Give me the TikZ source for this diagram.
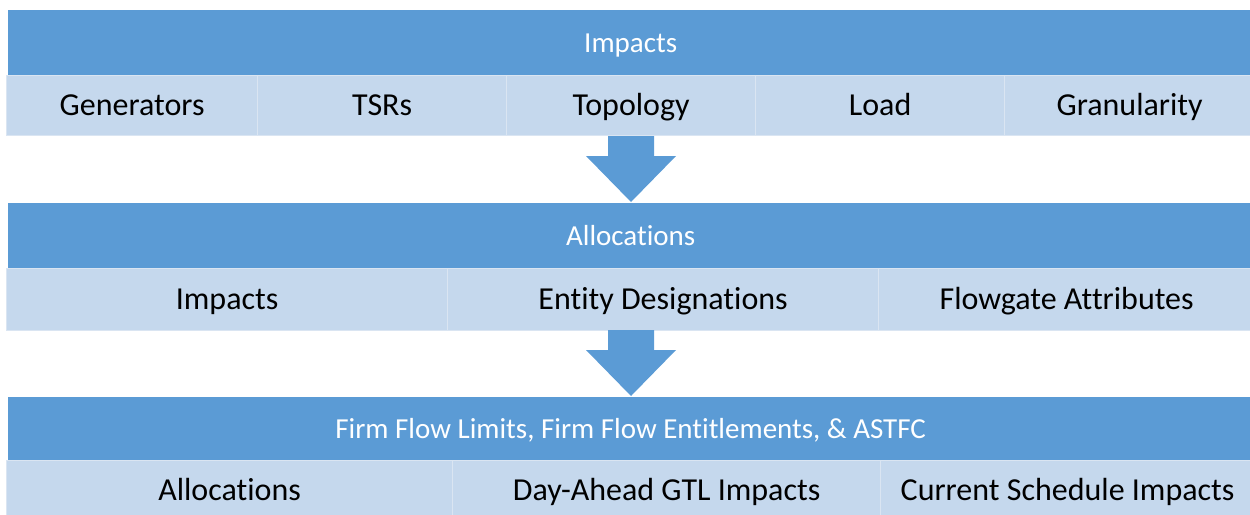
\documentclass[tikz,border=0pt]{standalone}
\usepackage{fontspec}
\setmainfont{Carlito}[Ligatures={NoCommon}]
\definecolor{hdrblue}{RGB}{91,155,213}
\definecolor{subblue}{RGB}{197,216,237}
\definecolor{cellline}{RGB}{218,229,242}
\begin{document}
\begin{tikzpicture}[x=1pt,y=-1pt,
  hdrcell/.style={fill=hdrblue,draw=none,anchor=north west,inner sep=0pt,
    minimum height=65pt,text=white,font=\fontsize{29}{34}\selectfont,
    text height=23.8pt,text depth=5.2pt},
  subcell/.style={fill=subblue,draw=cellline,line width=1.2pt,anchor=north west,inner sep=0pt,
    minimum height=60pt,text=black,font=\fontsize{32}{38}\selectfont,
    text height=26.2pt,text depth=5.8pt},
  blockarrow/.style={fill=hdrblue,draw=none}]
\useasboundingbox (0,0) rectangle (1250,514);
\clip (0,0) rectangle (1250,514);
% Section 1
\node[hdrcell,minimum width=1245pt] (h1) at (8,10) {Impacts};
\node[subcell,minimum width=251pt] (g) at (6,75) {Generators};
\node[subcell,minimum width=249pt] (tsr) at (257,75) {TSRs};
\node[subcell,minimum width=249pt] (topo) at (506,75) {Topology};
\node[subcell,minimum width=249pt] (load) at (755,75) {Load};
\node[subcell,minimum width=250pt] (gran) at (1004,75) {Granularity};
% Arrow 1
\coordinate (a1) at (631,136);
\fill[blockarrow] ([xshift=-23pt]a1) -- ([xshift=23pt]a1) -- ([xshift=23pt,yshift=-20pt]a1)
  -- ([xshift=45pt,yshift=-20pt]a1) -- ([yshift=-66pt]a1) -- ([xshift=-45pt,yshift=-20pt]a1)
  -- ([xshift=-23pt,yshift=-20pt]a1) -- cycle;
% Section 2
\node[hdrcell,minimum width=1245pt] (h2) at (8,203) {Allocations};
\node[subcell,minimum width=441pt,minimum height=62pt] (imp) at (6,268) {Impacts};
\node[subcell,minimum width=431pt,minimum height=62pt] (ent) at (447,268) {Entity Designations};
\node[subcell,minimum width=376pt,minimum height=62pt] (fga) at (878,268) {Flowgate Attributes};
% Arrow 2
\coordinate (a2) at (631,330);
\fill[blockarrow] ([xshift=-23pt]a2) -- ([xshift=23pt]a2) -- ([xshift=23pt,yshift=-20pt]a2)
  -- ([xshift=45pt,yshift=-20pt]a2) -- ([yshift=-66pt]a2) -- ([xshift=-45pt,yshift=-20pt]a2)
  -- ([xshift=-23pt,yshift=-20pt]a2) -- cycle;
% Section 3
\node[hdrcell,minimum width=1245pt,minimum height=63pt] (h3) at (8,397) {Firm Flow Limits, Firm Flow Entitlements, \& ASTFC};
\node[subcell,minimum width=446pt] (alloc) at (6,460) {Allocations};
\node[subcell,minimum width=428pt] (dag) at (452,460) {Day-Ahead GTL Impacts};
\node[subcell,minimum width=374pt] (csi) at (880,460) {Current Schedule Impacts};
\end{tikzpicture}
\end{document}
